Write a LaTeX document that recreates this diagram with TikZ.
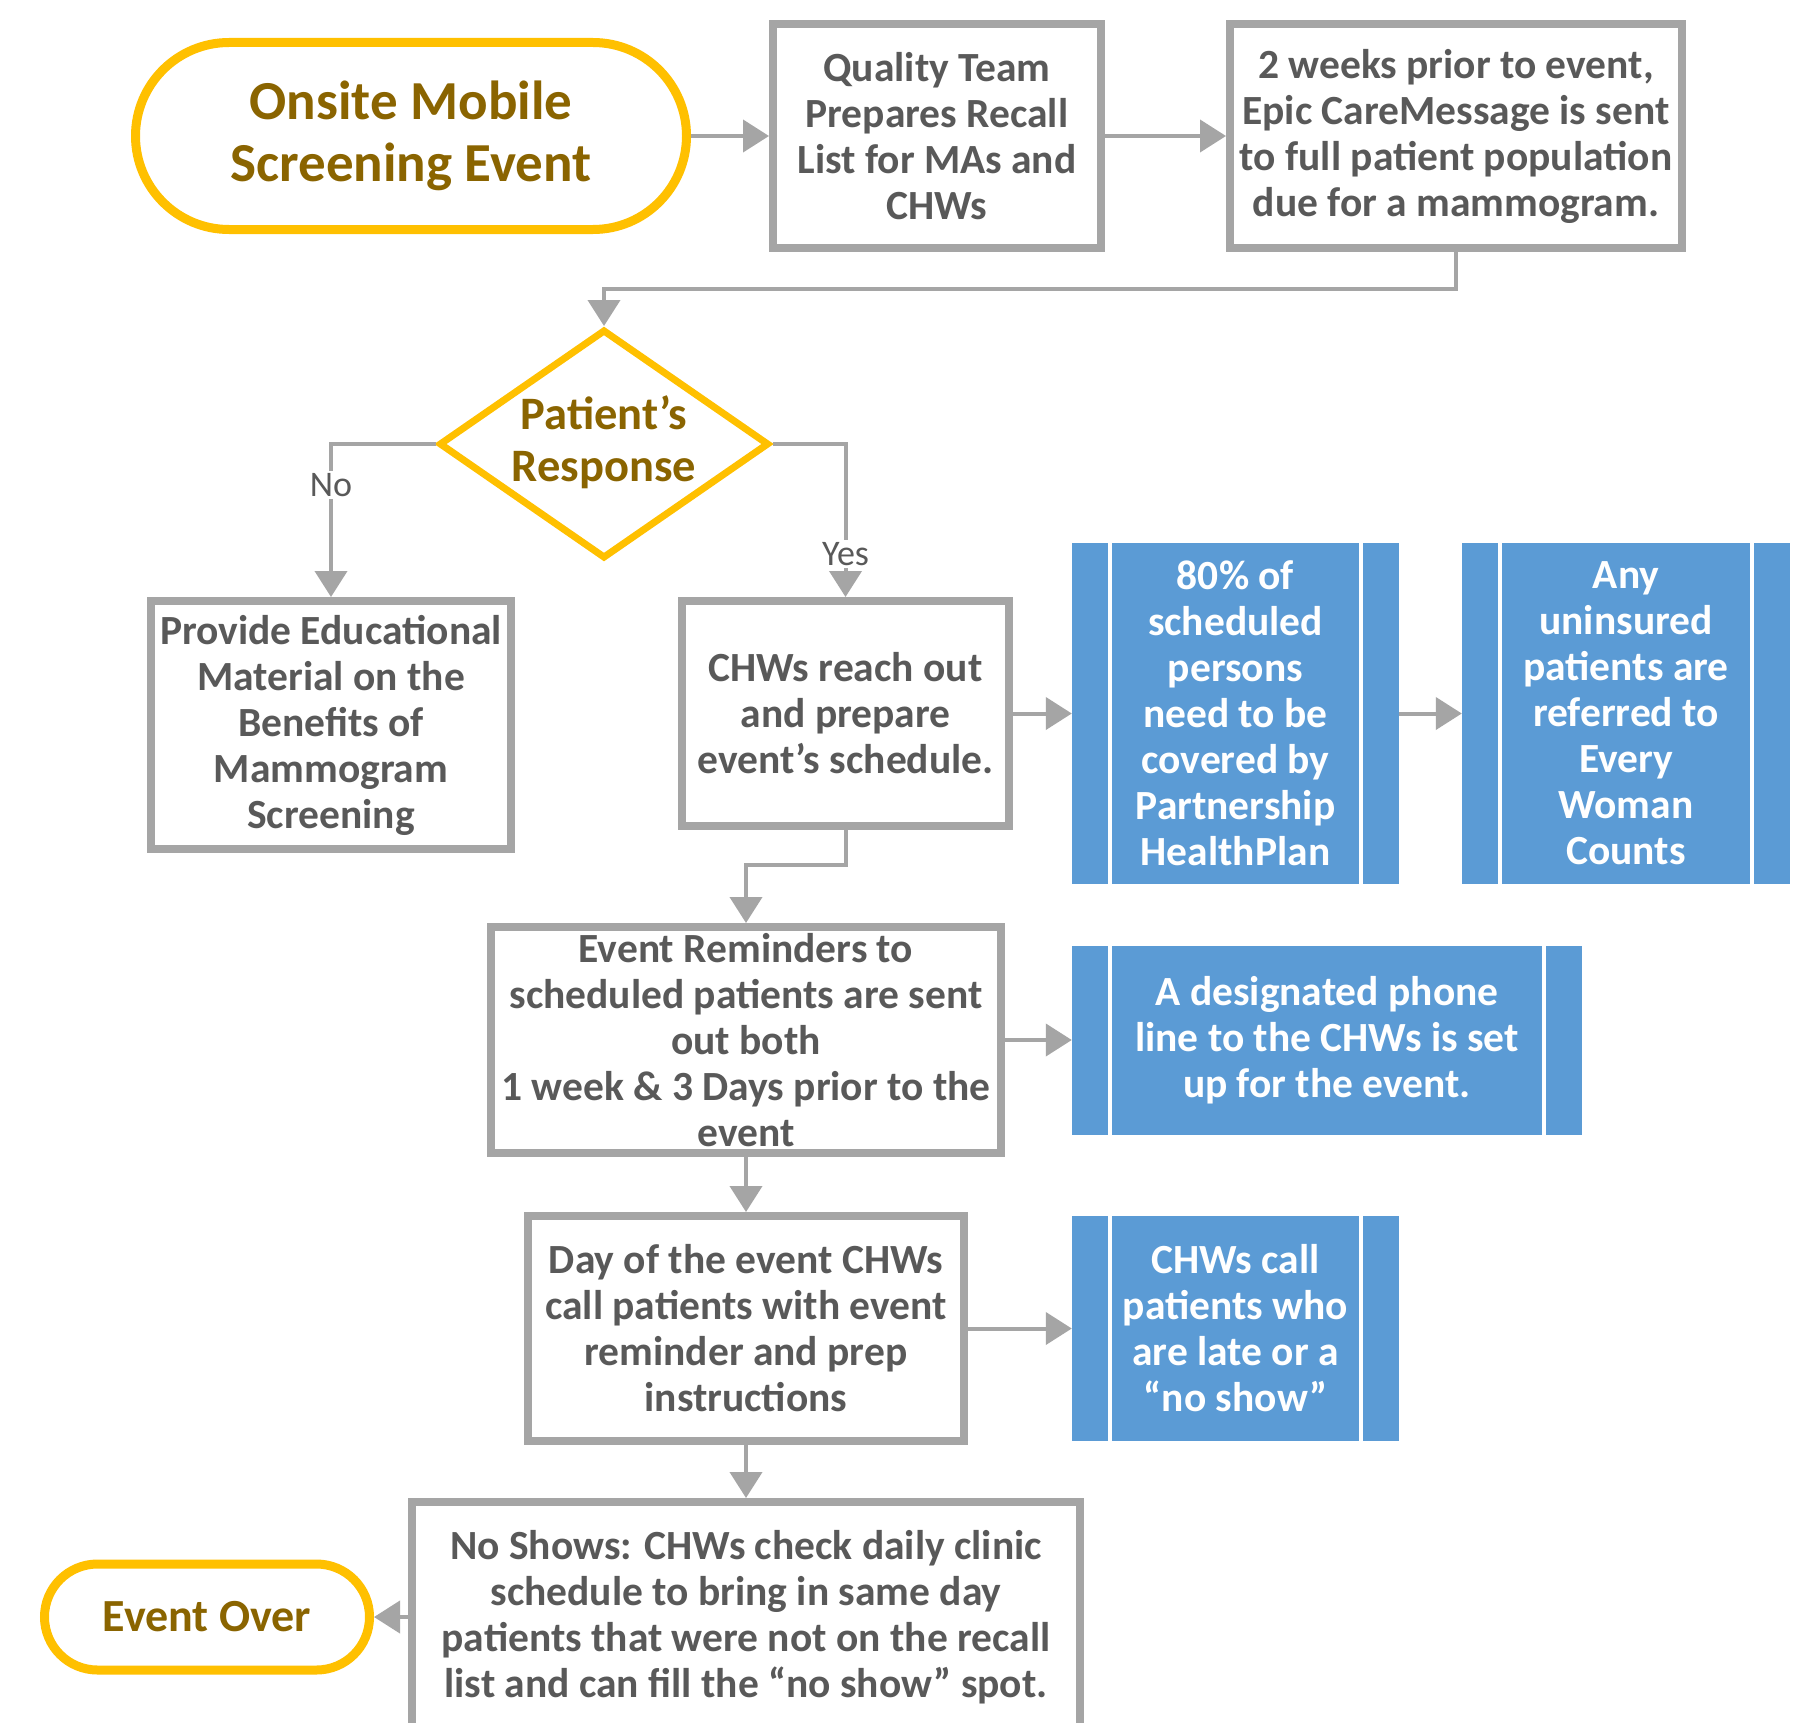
\documentclass[tikz,border=0pt]{standalone}
\usepackage{fontspec}
\setmainfont{Carlito}
\usetikzlibrary{shapes.geometric,shapes.misc,arrows.meta}
\definecolor{boxgray}{HTML}{A5A5A5}
\definecolor{txtgray}{HTML}{595959}
\definecolor{yel}{HTML}{FFC000}
\definecolor{olive}{HTML}{8A6400}
\definecolor{blu}{HTML}{5B9BD5}
\newcommand\fsz[2]{\fontsize{#1}{#2}\selectfont}
\tikzset{
  proc/.style={draw=boxgray, line width=8pt, fill=white, inner sep=0pt, align=center,
    text=txtgray, font=\fsz{41.5}{46}\bfseries},
  term/.style={rounded rectangle, draw=yel, line width=9pt, fill=white, inner sep=0pt,
    align=center, text=olive},
  predef/.style={fill=blu, inner sep=0pt, align=center, text=white, font=\fsz{41.5}{46}\bfseries,
    path picture={
      \draw[white, line width=4pt]
        ([xshift=38pt]path picture bounding box.north west) -- ([xshift=38pt]path picture bounding box.south west)
        ([xshift=-38pt]path picture bounding box.north east) -- ([xshift=-38pt]path picture bounding box.south east);}},
  conn/.style={draw=boxgray, line width=4pt, -{Triangle[length=26pt,width=32pt]}},
  lbl/.style={fill=white, text=txtgray, font=\fsz{36}{40}, inner sep=2pt},
}
\begin{document}
\begin{tikzpicture}[x=1pt,y=-1pt]
\useasboundingbox (0,0) rectangle (1814,1723);
\fill[white] (0,0) rectangle (1814,1723);

\node[term, minimum width=551pt, minimum height=187pt, font=\fsz{55}{62}\bfseries] (start) at (411,136) {Onsite Mobile\\Screening Event};
\node[proc, minimum width=328pt, minimum height=224pt] (qt) at (937,136) {Quality Team\\Prepares Recall\\List for MAs and\\CHWs};
\node[proc, minimum width=452pt, minimum height=224pt] (wk) at (1456,136) {2 weeks prior to event,\\Epic CareMessage is sent\\to full patient population\\due for a mammogram.};

\node[diamond, draw=yel, line width=7pt, fill=white, minimum width=330pt, minimum height=229pt, inner sep=0pt] (dec) at (604,444) {};
\node[text=olive, font=\fsz{46.5}{52}\bfseries, align=center] (dectxt) at (604,442) {Patient’s\\Response};

\node[proc, minimum width=360pt, minimum height=248pt] (prov) at (331,725) {Provide Educational\\Material on the\\Benefits of\\Mammogram\\Screening};
\node[proc, minimum width=327pt, minimum height=225pt] (chw) at (845.5,713.5) {CHWs reach out\\and prepare\\event’s schedule.};

\node[predef, minimum width=327pt, minimum height=341pt] (b1) at (1235.5,713.5) {80\% of\\scheduled\\persons\\need to be\\covered by\\Partnership\\HealthPlan};
\node[predef, minimum width=328pt, minimum height=341pt] (b2) at (1626,713.5) {Any\\uninsured\\patients are\\referred to\\Every\\Woman\\Counts};

\node[proc, minimum width=510pt, minimum height=226pt] (er) at (746,1040) {Event Reminders to\\scheduled patients are sent\\out both\\1 week \& 3 Days prior to the\\event};
\node[predef, minimum width=510pt, minimum height=189pt] (b3) at (1327,1040) {A designated phone\\line to the CHWs is set\\up for the event.};

\node[proc, minimum width=436pt, minimum height=225pt] (day) at (746,1328.5) {Day of the event CHWs\\call patients with event\\reminder and prep\\instructions};
\node[predef, minimum width=327pt, minimum height=225pt] (b4) at (1235.5,1328.5) {CHWs call\\patients who\\are late or a\\“no show”};

\node[proc, minimum width=668pt, minimum height=230pt] (ns) at (746,1617) {No Shows: CHWs check daily clinic\\schedule to bring in same day\\patients that were not on the recall\\list and can fill the “no show” spot.};
\node[term, minimum width=325pt, minimum height=106pt, font=\fsz{46}{52}\bfseries] (eo) at (207,1617) {Event Over};

\draw[conn] (start.east) -- (qt.west);
\draw[conn] (qt.east) -- (wk.west);
\draw[conn] (wk.south) -- ++(0,37) -| (dec.north);
\draw[conn] (dec.west) -| node[lbl, pos=0.634] (nolbl) {No} (prov.north);
\draw[conn] (dec.east) -| node[lbl, pos=0.86] (yeslbl) {Yes} (chw.north);
\draw[conn] (chw.east) -- (b1.west);
\draw[conn] (b1.east) -- (b2.west);
\draw[conn] (chw.south) -- ++(0,35) -| (er.north);
\draw[conn] (er.east) -- (b3.west);
\draw[conn] (er.south) -- (day.north);
\draw[conn] (day.east) -- (b4.west);
\draw[conn] (day.south) -- (ns.north);
\draw[conn] (ns.west) -- (eo.east);
\end{tikzpicture}
\end{document}
